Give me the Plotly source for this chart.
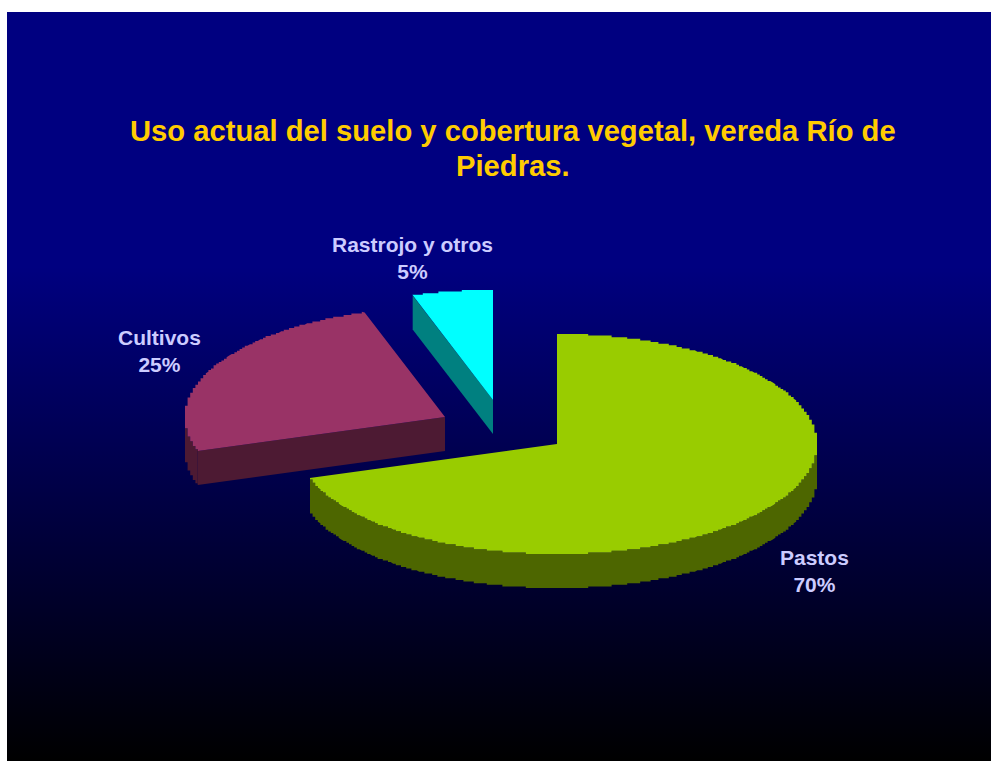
import numpy as np
import plotly.graph_objects as go

# Land-use shares for the vereda
categories = ["Pastos", "Cultivos", "Rastrojo y otros"]
shares = [70, 25, 5]

title_lines = ["Uso actual del suelo y cobertura vegetal, vereda Río de", "Piedras."]

top_colors = ["#99CC00", "#993366", "#00FFFF"]
side_colors = ["#4D6600", "#4D1A33", "#008080"]
TEXT_COLOR = "#CCCCFF"
TITLE_COLOR = "#FFCC00"
FONT = "Liberation Sans, Arial, sans-serif"

# Drawing space is the page in pixels; the pie is an extruded ellipse
WIDTH, HEIGHT = 991, 761
RX, RY, DEPTH = 260, 110, 34
GRID_X, GRID_Y = RX / 100, RY / 68  # fine rim grid, gives the slightly stepped outline
apexes = [(557, 444), (445, 417), (493, 400)]
label_anchors = [(814, 571), (159, 351), (412, 258)]
title_anchors = [(512.5, 131), (512.5, 166)]


def rim(cx, cy, a0, a1, dy=0):
    """Rim points snapped to the grid, angles in degrees clockwise from the top."""
    n = max(2, int(abs(a1 - a0) * 8) + 1)
    t = np.radians(np.linspace(a0, a1, n))
    px = RX * np.sin(t)
    py = -RY * np.cos(t)
    sx = np.round(px / GRID_X) * GRID_X
    sy = np.round(py / GRID_Y) * GRID_Y
    # the two ends stay exact so the straight cuts meet the rim
    sx[0], sy[0], sx[-1], sy[-1] = px[0], py[0], px[-1], py[-1]
    return cx + sx, cy + sy + dy


def polygon(x, y, color):
    return go.Scatter(
        x=np.asarray(x), y=np.asarray(y), mode="lines", fill="toself",
        fillcolor=color, line=dict(width=0), hoverinfo="skip", showlegend=False,
    )


fig = go.Figure()

# Slide background: navy holding for the top third, then fading to black
fig.add_trace(go.Scatter(
    x=[7, WIDTH, WIDTH, 7, 7], y=[12, 12, HEIGHT, HEIGHT, 12],
    mode="lines", fill="toself", line=dict(width=0),
    fillgradient=dict(
        type="vertical",
        colorscale=[[0, "#000000"], [0.66, "#000080"], [1, "#000080"]],
    ),
    hoverinfo="skip", showlegend=False,
))

total = sum(shares)
start = 0.0
for value, (cx, cy), top, side in zip(shares, apexes, top_colors, side_colors):
    end = start + 360.0 * value / total

    # Outer wall: the part of the rim facing the viewer (90 to 270 degrees)
    w0, w1 = max(start, 90.0), min(end, 270.0)
    if w1 > w0:
        xa, ya = rim(cx, cy, w0, w1)
        xb, yb = rim(cx, cy, w0, w1, DEPTH)
        fig.add_trace(polygon(np.r_[xa, xb[::-1]], np.r_[ya, yb[::-1]], side))

    # Cut faces that turn towards the viewer
    for angle, facing in ((start, -np.sin(np.radians(start))), (end, np.sin(np.radians(end)))):
        if facing > 1e-6:
            xr = cx + RX * np.sin(np.radians(angle))
            yr = cy - RY * np.cos(np.radians(angle))
            fig.add_trace(polygon([cx, xr, xr, cx], [cy, yr, yr + DEPTH, cy + DEPTH], side))

    # Top face
    xt, yt = rim(cx, cy, start, end)
    fig.add_trace(polygon(np.r_[cx, xt, cx], np.r_[cy, yt, cy], top))
    start = end

annotations = []
for line, (tx, ty) in zip(title_lines, title_anchors):
    annotations.append(dict(
        x=tx, y=ty, text=f"<b>{line}</b>", showarrow=False,
        xanchor="center", yanchor="middle",
        font=dict(family=FONT, size=29.2, color=TITLE_COLOR),
    ))
for name, value, (lx, ly) in zip(categories, shares, label_anchors):
    annotations.append(dict(
        x=lx, y=ly, text=f"<b>{name}<br>{round(100 * value / total)}%</b>",
        showarrow=False, xanchor="center", yanchor="middle",
        font=dict(family=FONT, size=21, color=TEXT_COLOR),
    ))

fig.update_layout(
    width=WIDTH, height=HEIGHT,
    margin=dict(l=0, r=0, t=0, b=0),
    paper_bgcolor="white", plot_bgcolor="white",
    xaxis=dict(range=[0, WIDTH], visible=False, fixedrange=True),
    yaxis=dict(range=[HEIGHT, 0], visible=False, fixedrange=True),
    annotations=annotations,
    showlegend=False,
)

fig.write_html("out.html", config=dict(displayModeBar=False))
